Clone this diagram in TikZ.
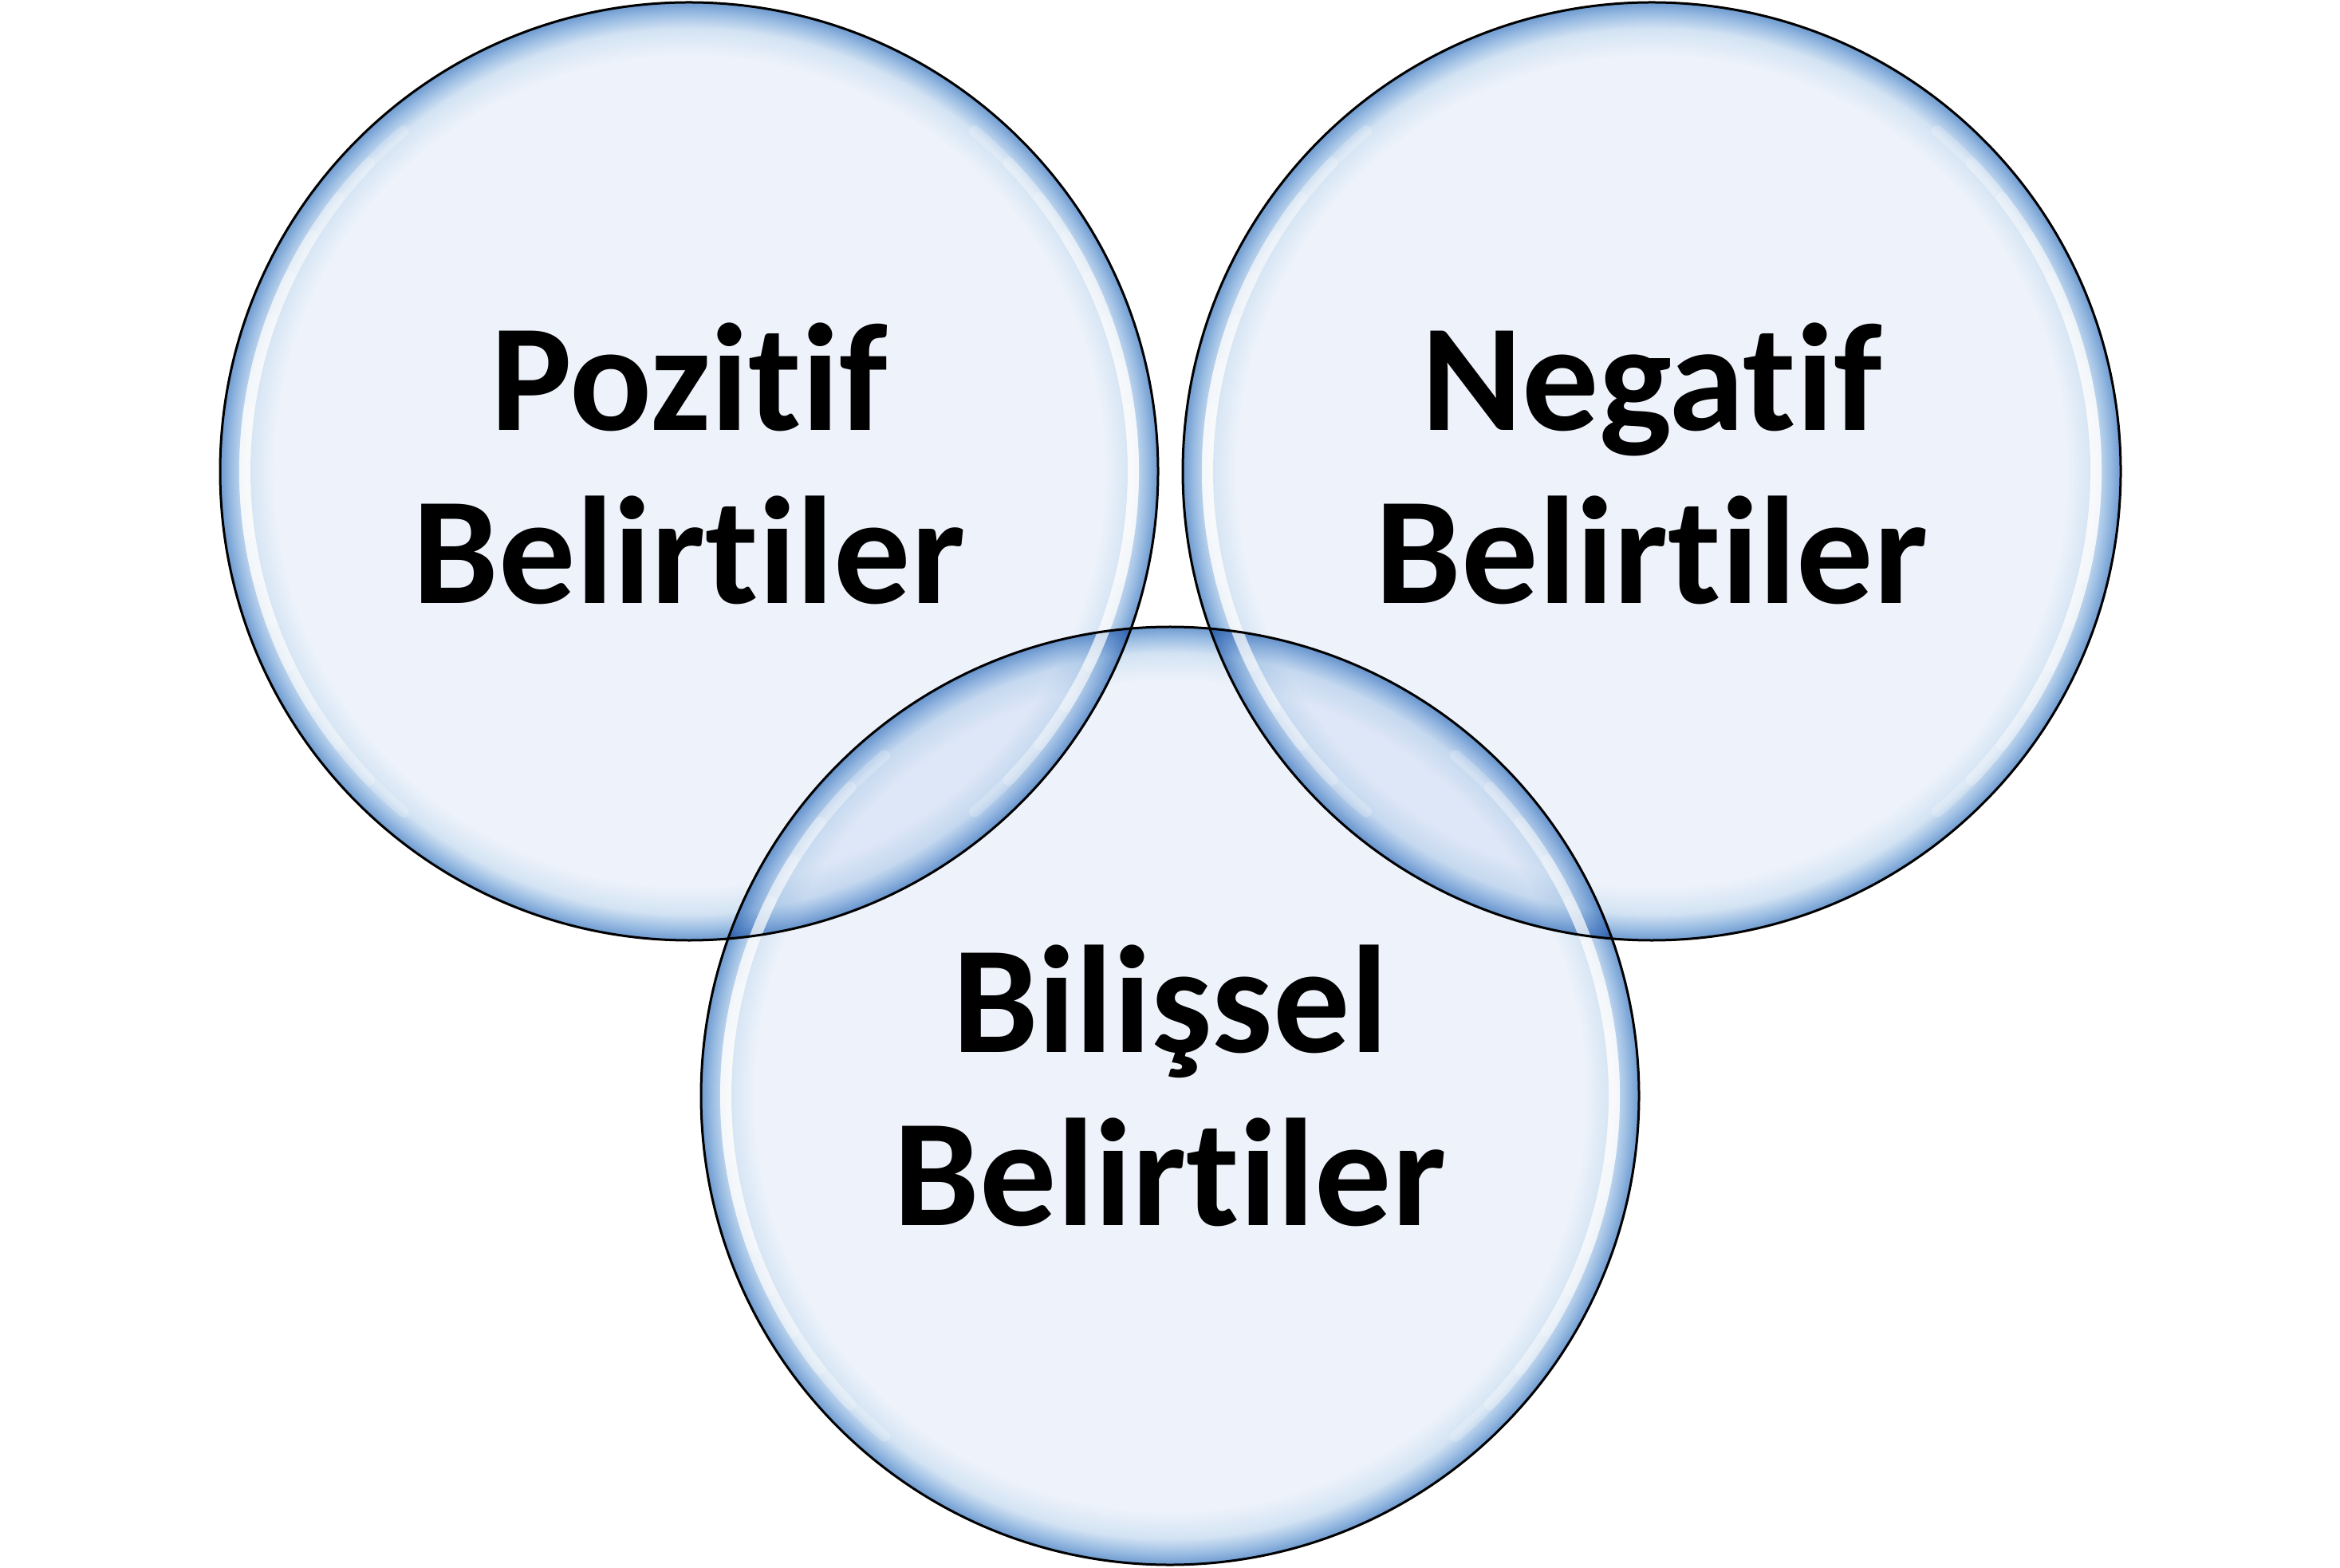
\documentclass[tikz,border=0pt]{standalone}
\usepackage{fontspec}
\setmainfont{Carlito}[Ligatures=NoCommon]
\definecolor{bubfill}{HTML}{EEF3FB}
\definecolor{bubmid}{HTML}{D3E3F3}
\definecolor{bubrim}{HTML}{9BBDE3}
\definecolor{bubedge}{HTML}{6E9BD0}
\pgfdeclareradialshading{bubble}{\pgfpoint{0bp}{0bp}}{color(0bp)=(bubfill); color(22.1bp)=(bubfill); color(23.6bp)=(bubmid); color(24.4bp)=(bubrim); color(25bp)=(bubedge); color(50bp)=(bubedge)}
\tikzset{
  bubblenode/.style={circle, shading=bubble, minimum size=11.76cm, inner sep=0pt, outer sep=0pt},
  labeltext/.style={align=center, font=\fontsize{54.6}{61.7}\selectfont\bfseries},
  glint/.style={white, line width=0.14cm, line cap=round},
  rimline/.style={black, line width=0.03cm}
}
\begin{document}
\begin{tikzpicture}
	\useasboundingbox (0,0) rectangle (29.34,19.65);
	% filled circles, multiplied so the overlaps get darker
	\begin{scope}[blend mode=multiply]
		\node [bubblenode] (poz) at (8.64,13.74)  {};
		\node [bubblenode] (neg) at (20.71,13.74) {};
		\node [bubblenode] (bil) at (14.67,5.91)  {};
	\end{scope}

	% white glints on the left and right sides
	\foreach \c in {poz,neg,bil}
		\foreach \a in {50,44,...,8} {
			\draw [glint, opacity=0.22] ([shift={(180-\a:5.57)}]\c.center) arc[start angle=180-\a, end angle=180+\a, radius=5.57];
			\draw [glint, opacity=0.22] ([shift={(-\a:5.57)}]\c.center) arc[start angle=-\a, end angle=\a, radius=5.57];
		}

	% outlines
	\foreach \c in {poz,neg,bil}
		\draw [rimline] (\c.center) circle[radius=5.88];

	% labels
	\node [labeltext] (pozt) at ([yshift=0.1cm]poz.center) {Pozitif\\Belirtiler};
	\node [labeltext] (negt) at ([yshift=0.1cm]neg.center) {Negatif\\Belirtiler};
	\node [labeltext] (bilt) at ([yshift=0.13cm]bil.center) {Bilişsel\\Belirtiler};
\end{tikzpicture}
\end{document}
